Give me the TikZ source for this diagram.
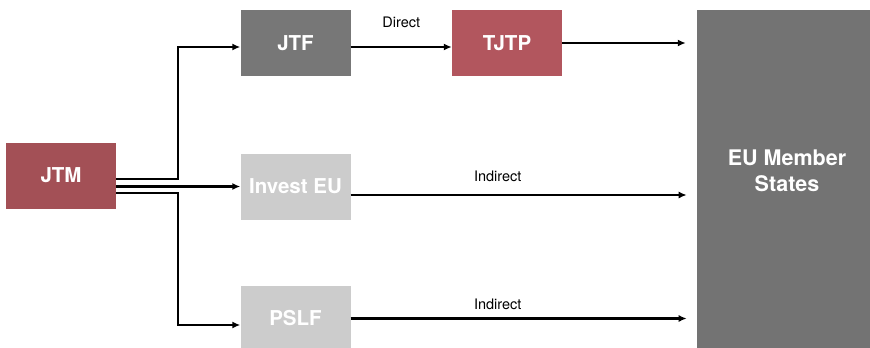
\documentclass[tikz,border=0pt]{standalone}
\usepackage{fontspec}
\setmainfont{TeX Gyre Heros}
\usetikzlibrary{arrows.meta}
\definecolor{jtmred}{RGB}{163,80,86}
\definecolor{tjtpred}{RGB}{178,86,94}
\definecolor{darkbox}{RGB}{119,119,119}
\definecolor{lightbox}{RGB}{204,204,204}
\definecolor{eugray}{RGB}{115,115,115}
\tikzstyle{box}=[rectangle,inner sep=0pt,minimum width=110pt,minimum height=66pt,text=white,font=\fontsize{20.5}{24}\selectfont\bfseries,align=center]
\tikzstyle{red box}=[box,fill=jtmred]
\tikzstyle{pink box}=[box,fill=tjtpred]
\tikzstyle{dark box}=[box,fill=darkbox]
\tikzstyle{light box}=[box,fill=lightbox]
\tikzstyle{edge} = [draw,line width=2.2pt,-{Latex[length=8pt,width=7pt]}]
\tikzstyle{lbl}=[font=\fontsize{14.5}{17}\selectfont,inner sep=0pt]

\begin{document}
\begin{tikzpicture}[x=1pt,y=-1pt]
        \useasboundingbox (0,0) rectangle (870,348);
        \clip (0,0) rectangle (870,348);
        \node[red box] (jtm) at (61,175.5) {JTM};
        \node[dark box] (jtf) at (295.5,43) {JTF};
        \node[pink box] (tjtp) at (507,43) {TJTP};
        \node[light box] (invest) at (295.5,186.5) {Invest EU};
        \node[light box] (pslf) at (295.5,318.5) {PSLF};
        \node[box,fill=eugray,minimum width=180pt,minimum height=350pt,
          label={[box,font=\fontsize{21.5}{26}\selectfont\bfseries,yshift=14pt]center:EU Member\\States}] (eu) at (787,185) {};
        \coordinate (tjtpend) at ([xshift=-11pt]eu.west |- tjtp.east);
        \draw[edge] ([yshift=-3.5pt]jtm.east) -- ++(62,0) |- ([yshift=-4pt]jtf.west);
        \draw[edge] (jtm.east |- invest.west) -- (invest.west);
        \draw[edge] ([yshift=-17.5pt]jtm.east) -- ++(62,0) |- ([yshift=-6.5pt]pslf.west);
        \draw[edge] ([yshift=-4pt]jtf.east) -- node[lbl,yshift=25pt] {Direct} ([yshift=-4pt]tjtp.west);
        \draw[edge] (tjtp.east) -- (tjtpend);
        \draw[edge] ([yshift=-8.5pt]invest.east) -- node[lbl,pos=.4375,yshift=19pt] {Indirect} ++(336,0);
        \draw[edge] (pslf.east) -- node[lbl,pos=.4375,yshift=14pt] {Indirect} ++(336,0);
      \end{tikzpicture}
\end{document}
